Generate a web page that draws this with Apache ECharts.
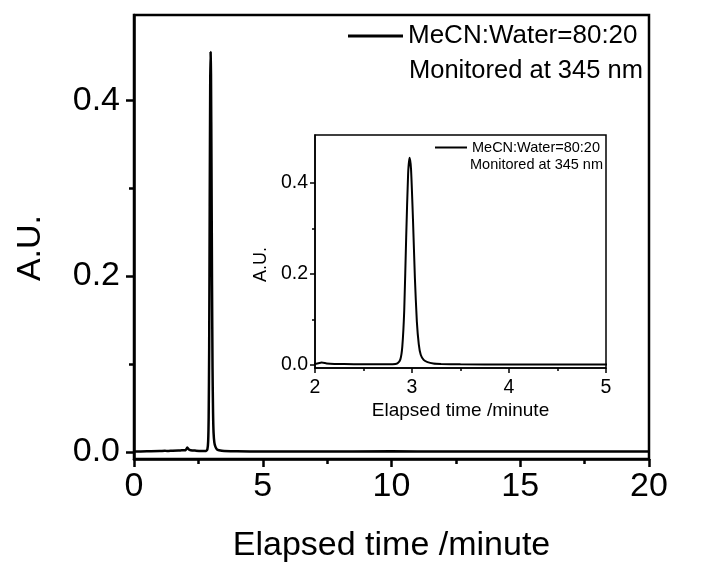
<!DOCTYPE html>
<html>
<head>
<meta charset="utf-8">
<script src="https://cdn.jsdelivr.net/npm/echarts@6/dist/echarts.min.js"></script>
<style>
html,body{margin:0;padding:0;background:#fff;}
#chart{width:707px;height:563px;}
</style>
</head>
<body>
<div id="chart"></div>
<script>
// ---- data ----
const timeMin = [0, 0.5, 1.0, 1.2, 1.3, 1.5, 1.8, 2.0, 2.07, 2.12, 2.2, 2.4, 2.6, 2.8,
  2.85, 2.88, 2.90, 2.92, 2.94, 2.96, 2.975, 2.99, 3.01, 3.03, 3.05, 3.07, 3.09, 3.12,
  3.16, 3.22, 3.3, 3.5, 4.0, 5.0, 7.0, 10.0, 12.0, 15.0, 20.0];
const absorbance = [0.0005, 0.0008, 0.001, 0.0015, 0.001, 0.0015, 0.0018, 0.002, 0.005, 0.003, 0.002, 0.0015, 0.0012, 0.0012,
  0.003, 0.012, 0.04, 0.12, 0.28, 0.42, 0.455, 0.43, 0.32, 0.19, 0.095, 0.045, 0.022, 0.011,
  0.006, 0.003, 0.002, 0.001, 0.0008, 0.0005, 0.0005, 0.0008, 0.0005, 0.0005, 0.0005];
const seriesName = 'MeCN:Water=80:20';
const noteText = 'Monitored at 345 nm';
const xTitle = 'Elapsed time /minute';
const yTitle = 'A.U.';
const yMajorTicks = [0, 0.2, 0.4];
const yMinorTicks = [0.1, 0.3];

const pairs = timeMin.map((t, i) => [t, absorbance[i]]);
const FONT = 'Arial, "Liberation Sans", sans-serif';
const black = '#000';

function xAxisCfg(grid, min, max, interval, lw, tickLen, minorLen, fs, margin, nameGap, nameFs) {
  return {
    gridIndex: grid, type: 'value', min: min, max: max, interval: interval, position: 'bottom',
    axisLine: { onZero: false, lineStyle: { color: black, width: lw } },
    axisTick: { inside: false, length: tickLen, lineStyle: { color: black, width: lw } },
    minorTick: { show: true, splitNumber: 2, length: minorLen, lineStyle: { color: black, width: lw } },
    splitLine: { show: false }, minorSplitLine: { show: false },
    axisLabel: { color: black, fontSize: fs, fontFamily: FONT, margin: margin },
    name: xTitle, nameLocation: 'middle', nameGap: nameGap,
    nameTextStyle: { color: black, fontSize: nameFs, fontFamily: FONT }
  };
}
function yAxisCfg(grid, min, max, lw, tickLen, fs, margin, nameGap, nameFs, shift) {
  return {
    gridIndex: grid, type: 'value', min: min, max: max, position: 'left',
    axisLine: { onZero: false, lineStyle: { color: black, width: lw } },
    axisTick: { inside: false, length: tickLen, customValues: yMajorTicks, lineStyle: { color: black, width: lw } },
    splitLine: { show: false },
    axisLabel: { color: black, fontSize: fs, fontFamily: FONT, margin: margin, customValues: yMajorTicks,
      formatter: v => Number(v).toFixed(1) },
    name: yTitle, nameLocation: 'middle', nameGap: nameGap,
    nameTextStyle: { color: black, fontSize: nameFs, fontFamily: FONT, padding: [0, shift * 2, 0, 0] }
  };
}
function yMinorCfg(grid, min, max, lw, tickLen) {
  return {
    gridIndex: grid, type: 'value', min: min, max: max, position: 'left',
    axisLine: { show: false, onZero: false },
    axisTick: { inside: false, length: tickLen, customValues: yMinorTicks, lineStyle: { color: black, width: lw } },
    axisLabel: { show: false },
    splitLine: { show: false }
  };
}

const chart = echarts.init(document.getElementById('chart'), null, { renderer: 'canvas' });
chart.setOption({
  animation: false,
  backgroundColor: '#fff',
  grid: [
    { left: 134, top: 15, width: 515, height: 444, show: true, borderColor: black, borderWidth: 2.5,
      containLabel: false, outerBoundsMode: 'none' },
    { left: 315, top: 135, width: 291, height: 233, show: true, borderColor: black, borderWidth: 1.5,
      containLabel: false, outerBoundsMode: 'none' }
  ],
  xAxis: [
    xAxisCfg(0, 0, 20, 5, 2.5, 8, 5, 34, 11, 70, 34),
    xAxisCfg(1, 2, 5, 1, 1.5, 5, 3, 19.5, 10, 33, 19)
  ],
  yAxis: [
    yAxisCfg(0, -0.008, 0.497, 2.5, 8, 34, 14, 86, 34, 11),
    yMinorCfg(0, -0.008, 0.497, 2.5, 5),
    yAxisCfg(1, -0.007, 0.505, 1.5, 5, 19.5, 7, 45, 18, 13),
    yMinorCfg(1, -0.007, 0.505, 1.5, 3)
  ],
  legend: [
    { data: [seriesName], left: 348, top: 23, icon: 'rect', itemWidth: 55, itemHeight: 3, selectedMode: false,
      padding: 0, textStyle: { color: black, fontSize: 26, fontFamily: FONT }, itemStyle: { color: black } },
    { data: [seriesName], left: 435, top: 140, icon: 'rect', itemWidth: 32, itemHeight: 2, selectedMode: false,
      padding: 0, textStyle: { color: black, fontSize: 14.5, fontFamily: FONT }, itemStyle: { color: black } }
  ],
  graphic: [
    { type: 'text', left: 409, top: 58, silent: true,
      style: { text: noteText, fill: black, font: '25.5px ' + FONT } },
    { type: 'text', left: 470, top: 157, silent: true,
      style: { text: noteText, fill: black, font: '14.5px ' + FONT } }
  ],
  series: [
    { name: seriesName, type: 'line', xAxisIndex: 0, yAxisIndex: 0, data: pairs, showSymbol: false, smooth: 0.2,
      color: black, lineStyle: { color: black, width: 2.5 }, clip: true },
    { name: seriesName, type: 'line', xAxisIndex: 1, yAxisIndex: 2, data: pairs, showSymbol: false, smooth: 0.2,
      color: black, lineStyle: { color: black, width: 2 }, clip: true }
  ]
});
</script>
</body>
</html>
